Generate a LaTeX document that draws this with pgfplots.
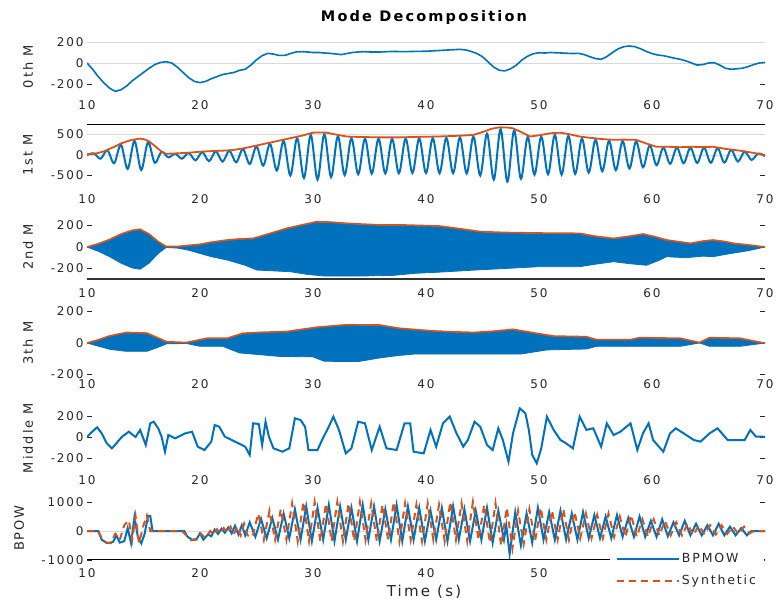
\documentclass[border=0pt]{standalone}
\usepackage{fontspec}
\setmainfont{DejaVu Sans}[LetterSpace=15]
\usepackage{pgfplots}
\pgfplotsset{compat=1.18}
\definecolor{mblue}{RGB}{0,114,189}
\definecolor{morange}{RGB}{217,83,25}
\definecolor{tcol}{RGB}{38,38,38}
\pgfplotsset{
  panel/.style={
    scale only axis, width=678pt, xmin=10, xmax=70,
    axis line style={draw=none},
    xtick={10,20,30,40,50,60,70},
    xticklabels={10,20,30,40,50,60,70},
    xticklabel style={anchor=center, font=\fontsize{12}{12}\selectfont, text=tcol},
    yticklabel style={font=\fontsize{12}{12}\selectfont, text=tcol},
    major x tick style={draw=none},
    major y tick style={draw=tcol, line width=0.8pt},
    tick align=inside, major tick length=5pt,
    ytick pos=both, yticklabel pos=left,
    every axis y label/.style={at={(axis description cs:-0.087,0.5)}, rotate=90, anchor=center, font=\fontsize{13}{13}\selectfont, text=tcol},
  },
}
\begin{document}
\begin{tikzpicture}
\useasboundingbox (0,0) rectangle (776pt,605pt);
\node[font=\bfseries\fontsize{14.5}{14.5}\selectfont, text=black] at (424pt,587pt) {Mode Decomposition};
\node[font=\fontsize{15}{15}\selectfont, text=tcol] at (424pt,13pt) {Time (s)};

% ---- Panel 1: 0th M
\begin{axis}[panel, at={(87pt,510.5pt)}, anchor=south west, height=55.65pt,
  ymin=-300, ymax=230, ytick={-200,0,200}, yticklabels={-200,0,200},
  xticklabel style={yshift=-10.5pt}, ylabel={0th M}]
\draw[black!15, line width=0.8pt] (axis cs:10,200) -- (axis cs:70,200);
\draw[black!15, line width=0.8pt] (axis cs:10,0) -- (axis cs:70,0);
\addplot[mblue, line width=1.6pt] coordinates {
(10,0) (10.5,-60) (11,-130) (11.5,-190) (12,-240) (12.5,-270) (13,-255) (13.5,-220) (14,-170) (14.5,-130) (15,-90) (15.5,-50) (16,-15) (16.5,5) (17,12) (17.5,0) (18,-40) (18.5,-90) (19,-140) (19.5,-175) (20,-187) (20.5,-175) (21,-150) (21.5,-130) (22,-110) (22.5,-100) (23,-90) (23.5,-70) (24,-60) (24.5,-20) (25,30) (25.5,70) (26,92) (26.5,85) (27,72) (27.5,72) (28,90) (28.5,105) (29,108) (29.5,105) (30,100) (30.5,100) (31,95) (31.5,92) (32,86) (32.5,80) (33,90) (33.5,100) (34,105) (34.5,108) (35,105) (36,105) (37,110) (38,108) (39,110) (40,112) (41,118) (42,124) (43,130) (43.5,125) (44,110) (44.5,90) (45,60) (45.5,10) (46,-40) (46.5,-70) (47,-75) (47.5,-55) (48,-20) (48.5,30) (49,65) (49.5,88) (50,98) (50.5,95) (51,100) (52,95) (53,90) (53.5,92) (54,80) (54.5,60) (55,42) (55.5,35) (56,60) (56.5,100) (57,135) (57.5,155) (58,162) (58.5,155) (59,135) (59.5,110) (60,90) (60.5,76) (61,70) (61.5,58) (62,45) (62.5,35) (63,20) (63.5,0) (64,-20) (64.5,-15) (65,0) (65.5,3) (66,-20) (66.5,-50) (67,-60) (67.5,-55) (68,-50) (68.5,-35) (69,-15) (69.5,0) (70,5)
};
\end{axis}

% ---- Panel 2: 1st M
\begin{axis}[panel, at={(87pt,419.25pt)}, anchor=south west, height=61.5pt,
  ymin=-750, ymax=750, ytick={-500,0,500}, yticklabels={-500,0,500},
  xticklabel style={yshift=-13.25pt}, ylabel={1st M}]
\draw[black!15, line width=0.8pt] (axis cs:10,500) -- (axis cs:70,500);
\draw[black!15, line width=0.8pt] (axis cs:10,0) -- (axis cs:70,0);
\addplot[mblue, line width=2pt, smooth, tension=0.55] coordinates {
(10.0,0) (10.6,40) (11.2,-90) (11.8,115) (12.4,-200) (13.0,250) (13.6,-340) (14.2,345) (14.8,-365) (15.4,310) (16.0,-190) (16.6,80) (17.2,-60) (17.8,30) (18.4,-90) (19.0,50) (19.6,-130) (20.2,70) (20.8,-150) (21.4,90) (22.0,-160) (22.6,105) (23.2,-180) (23.8,145) (24.4,-220) (25.0,210) (25.6,-260) (26.2,270) (26.8,-380) (27.4,345) (28.0,-500) (28.6,410) (29.2,-560) (29.8,490) (30.4,-600) (31.0,510) (31.6,-540) (32.2,460) (32.8,-490) (33.4,410) (34.0,-470) (34.6,400) (35.2,-455) (35.8,400) (36.4,-450) (37.0,395) (37.6,-445) (38.2,400) (38.8,-440) (39.4,405) (40.0,-440) (40.6,410) (41.2,-445) (41.8,420) (42.4,-445) (43.0,430) (43.6,-450) (44.2,450) (44.8,-500) (45.4,520) (46.0,-600) (46.6,630) (47.2,-650) (47.8,600) (48.4,-580) (49.0,440) (49.6,-480) (50.2,450) (50.8,-470) (51.4,490) (52.0,-480) (52.6,470) (53.2,-460) (53.8,400) (54.4,-430) (55.0,375) (55.6,-395) (56.2,345) (56.8,-370) (57.4,340) (58.0,-330) (58.6,335) (59.2,-300) (59.8,235) (60.4,-250) (61.0,180) (61.6,-215) (62.2,180) (62.8,-200) (63.4,180) (64.0,-195) (64.6,180) (65.2,-190) (65.8,165) (66.4,-185) (67.0,125) (67.6,-160) (68.2,80) (68.8,-120) (69.4,35) (70.0,-30)
};
\addplot[morange, line width=1.8pt] coordinates {
(10,20) (10.5,25) (11,50) (11.5,90) (12,150) (12.5,210) (13,280) (13.5,330) (14,370) (14.7,400) (15.1,380) (15.5,330) (16,220) (16.3,150) (16.7,60) (17,30) (17.5,35) (18,40) (19,55) (20,80) (21,95) (22,105) (22.9,120) (24,170) (25,230) (25.9,285) (27,350) (28,410) (29,470) (30,545) (30.5,550) (31.2,545) (32,500) (33,450) (34,440) (35,435) (36,430) (37.7,430) (39,440) (40,445) (41,450) (42,460) (43,470) (44.2,490) (45,560) (45.8,640) (46.5,675) (47.2,670) (47.7,650) (48.5,550) (49.2,450) (50,480) (51,530) (51.9,545) (52.8,500) (53.6,450) (54.5,420) (55.5,390) (56.6,370) (57.5,375) (58.6,370) (59.5,280) (60.4,200) (61.5,200) (62.5,190) (63.5,200) (64.5,195) (65.4,200) (66.5,150) (67.8,105) (68.8,60) (70,0)
};
\draw[black, line width=1.6pt] (rel axis cs:0,1) -- (rel axis cs:1,1);
\end{axis}

% ---- Panel 3: 2nd M
\begin{axis}[panel, at={(87pt,325.75pt)}, anchor=south west, height=64.5pt,
  ymin=-300, ymax=300, ytick={-200,0,200}, yticklabels={-200,0,200},
  xticklabel style={yshift=-13.75pt}, ylabel={2nd M}]
\addplot[fill=mblue, draw=mblue, line width=0.8pt] coordinates {
(10,0) (11,24) (12,62) (13,112) (14,147) (14.7,157) (15.5,112) (16.3,42) (17,2) (18,2) (19,8) (20,18) (21,37) (22.4,57) (23.5,67) (24.7,72) (26,112) (27.7,166) (29,197) (30.3,227) (31.5,224) (33,212) (35.9,197) (38,197) (41.2,187) (43,162) (44.8,135) (47,127) (50,122) (53.6,119) (55,92) (56.6,72) (58,92) (59.2,113) (60.3,87) (61.3,57) (63.4,27) (64.5,47) (65.4,57) (66.5,42) (67.2,27) (68.5,13) (70,0)
(68.5,-35) (67,-60) (65.4,-90) (64.5,-85) (63,-100) (61.3,-90) (60.5,-130) (59.5,-170) (58,-155) (56.6,-137) (55,-160) (53.6,-183) (50,-183) (47,-200) (44.4,-214) (41,-235) (39,-245) (37,-265) (34,-270) (31,-270) (29.5,-255) (28,-230) (25,-214) (24,-170) (22.4,-121) (21,-90) (20,-60) (19,-30) (18,-10) (17,-5) (16.3,-60) (15.5,-150) (14.7,-207) (14,-195) (13,-150) (12,-90) (11,-40) (10,0)
};
\addplot[morange, line width=1.6pt] coordinates {
(10,0) (11,30) (12,70) (13,120) (14,155) (14.7,165) (15.5,120) (16.3,50) (17,5) (18,5) (19,15) (20,25) (21,45) (22.4,65) (23.5,75) (24.7,80) (26,120) (27.7,174) (29,205) (30.3,235) (31.5,232) (33,220) (35.9,205) (38,205) (41.2,195) (43,170) (44.8,143) (47,135) (50,130) (53.6,127) (55,100) (56.6,80) (58,100) (59.2,121) (60.3,95) (61.3,65) (63.4,34) (64.5,55) (65.4,65) (66.5,50) (67.2,34) (68.5,20) (70,0)
};
\draw[black!80, line width=1.6pt] (rel axis cs:0,0) -- (rel axis cs:1,0);
\end{axis}

% ---- Panel 4: 3th M
\begin{axis}[panel, at={(87pt,230.5pt)}, anchor=south west, height=63pt,
  ymin=-200, ymax=200, ytick={-200,0,200}, yticklabels={-200,0,200},
  xticklabel style={yshift=-9.5pt}, ylabel={3th M}]
\addplot[fill=mblue, draw=mblue, line width=0.8pt] coordinates {
(10,0) (11,15) (12,40) (13.5,62) (15.3,58) (16.2,30) (17.05,3) (18.8,0) (20.6,25) (22.4,25) (23.8,57) (25.5,63) (27.7,68) (30.3,95) (33,111) (35.9,109) (37.7,88) (40.35,73) (42,67) (44.2,62) (46,70) (47.7,82) (49.5,60) (51.3,39) (54.2,35) (55.1,16) (58.1,16) (58.9,29) (62.5,25) (64.2,0) (65.1,29) (67.8,25) (69.7,0) (70,0)
(69.7,-3) (67.8,-21) (65.1,-21) (64.2,0) (62.5,-21) (55.1,-21) (54.2,-38) (50.7,-44) (48.4,-70) (44,-70) (39,-70) (37.5,-80) (35.9,-95) (34,-118) (31,-116) (30,-88) (27,-85) (23.5,-63) (22,-21) (20,-21) (18.8,-3) (17.05,-5) (16.2,-30) (15.3,-53) (13.5,-53) (12,-40) (11,-20) (10,0)
};
\addplot[morange, line width=1.6pt] coordinates {
(10,0) (11,20) (12,45) (13.5,67) (15.3,63) (16.2,35) (17.05,8) (18.8,3) (20.6,30) (22.4,30) (23.8,62) (25.5,68) (27.7,73) (30.3,100) (33,116) (35.9,114) (37.7,93) (40.35,78) (42,72) (44.2,67) (46,75) (47.7,87) (49.5,65) (51.3,44) (54.2,40) (55.1,21) (58.1,21) (58.9,34) (62.5,30) (64.2,3) (65.1,34) (67.8,30) (69.7,3) (70,0)
};
\end{axis}

% ---- Panel 5: Middle M
\begin{axis}[panel, at={(87pt,136.5pt)}, anchor=south west, height=60.9pt,
  ymin=-300, ymax=280, ytick={-200,0,200}, yticklabels={-200,0,200},
  xticklabel style={yshift=-11.5pt}, ylabel={Middle M}]
\addplot[mblue, line width=2pt] coordinates {
(10.0,0) (10.45,50) (10.9,92) (11.3,35) (11.75,-60) (12.2,-108) (12.6,-60) (13.1,3) (13.7,50) (14.3,0) (14.7,67) (15.2,-76) (15.6,130) (15.9,146) (16.3,83) (16.6,3) (16.9,-140) (17.2,19) (17.8,-13) (18.7,35) (19.3,50) (19.8,-92) (20.4,-124) (21.0,-44) (21.3,114) (21.7,98) (22.2,3) (22.8,-29) (23.4,-60) (24.0,-92) (24.4,-171) (24.7,130) (25.2,124) (25.5,-76) (25.8,146) (26.1,3) (26.5,-108) (27.3,-140) (27.9,-108) (28.4,178) (28.9,162) (29.3,98) (29.6,-124) (30.4,-124) (30.8,-29) (31.4,98) (31.8,194) (32.3,67) (32.9,-156) (33.4,-108) (34.0,146) (34.6,130) (35.2,-124) (35.9,98) (36.5,-108) (37.4,-124) (38.1,130) (38.6,130) (38.9,-140) (39.8,-156) (40.4,67) (40.9,-92) (41.5,130) (42.1,194) (42.7,35) (43.3,-92) (43.7,-29) (44.3,146) (44.8,98) (45.4,-76) (45.9,-124) (46.4,83) (46.8,-29) (47.3,-235) (47.7,35) (48.3,273) (48.8,225) (49.1,67) (49.4,-171) (49.8,-251) (50.2,-108) (50.7,194) (51.3,67) (51.9,-29) (52.4,-60) (53.0,-108) (53.6,194) (54.2,67) (54.8,83) (55.5,-92) (56.0,130) (56.6,19) (57.2,50) (58.1,130) (58.7,-124) (59.2,35) (59.7,130) (60.1,-29) (61.0,-140) (61.6,35) (62.1,83) (62.8,35) (63.7,-29) (64.3,-44) (65.1,35) (65.8,83) (66.7,-29) (67.6,-29) (68.2,-29) (68.7,67) (69.2,3) (69.8,3) (70,0)
};
\end{axis}

% ---- Panel 6: BPOW
\begin{axis}[panel, at={(87pt,45pt)}, anchor=south west, height=63.8pt,
  ymin=-1000, ymax=1200, ytick={-1000,0,1000}, yticklabels={-1000,0,1000},
  xtick={10,20,30,40,50}, xticklabels={10,20,30,40,50},
  xticklabel style={yshift=-13pt},
  every axis y label/.append style={at={(axis description cs:-0.100,0.5)}},
  ylabel={BPOW},
  legend style={at={(0.771,0.20)}, anchor=north west, draw=none, fill=white,
    font=\fontsize{12.5}{12.5}\selectfont, text=tcol, row sep=7pt, inner xsep=6pt, inner ysep=4pt},
  legend cell align=left,
  legend image code/.code={\draw[#1] (0pt,0pt) -- (62pt,0pt);}]
\draw[black!15, line width=0.8pt] (axis cs:10,0) -- (axis cs:70,0);
\addplot[mblue, line width=2pt] coordinates {
(10,0) (11.0,0) (11.3,-300) (11.8,-420) (12.3,-380) (12.6,-150) (12.9,-400) (13.3,-350) (13.6,100) (13.9,-420) (14.2,480) (14.5,-200) (14.8,-430) (15.1,-100) (15.4,520) (15.6,520) (15.8,0) (18.6,0) (18.9,-200) (19.3,-300) (19.7,-280) (20.0,-80) (20.3,-300) (20.7,-120) (21.0,-180) (21.3,50) (21.6,-100) (21.9,80) (22.2,-60) (22.5,120) (22.8,-80) (23.1,180) (23.4,-120) (23.7,200) (24.0,-150) (24.4,300) (24.9,-200) (25.4,420) (25.9,-250) (26.4,450) (26.9,-300) (27.4,600) (27.9,-250) (28.4,750) (28.9,-300) (29.4,850) (29.9,-350) (30.4,800) (30.9,-300) (31.4,900) (31.9,-350) (32.4,850) (32.9,-300) (33.4,800) (33.9,-350) (34.4,900) (34.9,-300) (35.4,850) (35.9,-350) (36.4,750) (36.9,-300) (37.4,900) (37.9,-350) (38.4,850) (38.9,-300) (39.4,800) (39.9,-350) (40.4,700) (40.9,-300) (41.4,800) (41.9,-350) (42.4,850) (42.9,-300) (43.4,750) (43.9,-350) (44.4,700) (44.9,-300) (45.4,800) (45.9,-400) (46.4,700) (46.9,-300) (47.1,200) (47.4,-800) (47.9,650) (48.4,-500) (48.9,600) (49.4,-400) (49.9,800) (50.4,-300) (50.9,650) (51.4,-300) (51.9,700) (52.4,-300) (52.9,600) (53.4,-300) (53.9,650) (54.4,-250) (54.9,550) (55.4,-250) (55.9,500) (56.4,-250) (56.9,550) (57.4,-200) (57.9,450) (58.4,-200) (58.9,500) (59.4,-200) (59.9,350) (60.4,-200) (60.9,400) (61.4,-180) (61.9,300) (62.4,-150) (62.9,350) (63.4,-150) (63.9,250) (64.4,-150) (64.9,200) (65.4,-150) (65.9,250) (66.4,-150) (66.9,150) (67.4,-150) (67.9,100) (68.4,-150) (68.8,0) (70,0)
};
\addplot[morange, line width=2pt, dash pattern=on 7pt off 5pt] coordinates {
(10,0) (11.0,0) (11.3,-250) (11.7,-400) (12.1,-420) (12.5,-100) (12.9,-300) (13.3,200) (13.7,370) (14.0,-300) (14.3,500) (14.6,-420) (15.0,200) (15.3,530) (15.6,0) (18.4,0) (18.8,-150) (19.2,-320) (19.7,-300) (20.1,-100) (20.5,-250) (20.9,0) (21.2,-120) (21.5,60) (21.8,-80) (22.1,100) (22.4,-60) (22.7,150) (23.0,-100) (23.3,150) (23.6,-150) (23.9,250) (24.2,-150) (24.65,-200) (25.15,600) (25.65,-300) (26.15,700) (26.65,-300) (27.15,750) (27.65,-300) (28.15,950) (28.65,-350) (29.15,1000) (29.65,-350) (30.15,1000) (30.65,-350) (31.15,950) (31.65,-350) (32.15,1000) (32.65,-350) (33.15,950) (33.65,-350) (34.15,1000) (34.65,-300) (35.15,950) (35.65,-350) (36.15,900) (36.65,-300) (37.15,1000) (37.65,-350) (38.15,950) (38.65,-300) (39.15,900) (39.65,-350) (40.15,950) (40.65,-300) (41.15,900) (41.65,-350) (42.15,1000) (42.65,-300) (43.15,950) (43.65,-350) (44.15,1000) (44.65,-300) (45.15,900) (45.65,-400) (46.15,950) (46.65,-500) (47.15,800) (47.65,-600) (48.15,700) (48.65,-450) (49.15,750) (49.65,-350) (50.15,800) (50.65,-300) (51.15,700) (51.65,-300) (52.15,750) (52.65,-300) (53.15,650) (53.65,-250) (54.15,600) (54.65,-250) (55.15,550) (55.65,-250) (56.15,600) (56.65,-200) (57.15,500) (57.65,-200) (58.15,550) (58.65,-200) (59.15,400) (59.65,-200) (60.15,400) (60.65,-150) (61.15,350) (61.65,-150) (62.15,300) (62.65,-150) (63.15,250) (63.65,-150) (64.15,200) (64.65,-120) (65.15,200) (65.65,-120) (66.15,200) (66.65,-100) (67.15,150) (67.65,-100) (68.15,150) (68.65,-80) (69.0,0) (70,0)
};
\draw[black, line width=1.4pt] (rel axis cs:0,0) -- (rel axis cs:1,0);
\legend{BPMOW, Synthetic}
\end{axis}
\end{tikzpicture}
\end{document}
